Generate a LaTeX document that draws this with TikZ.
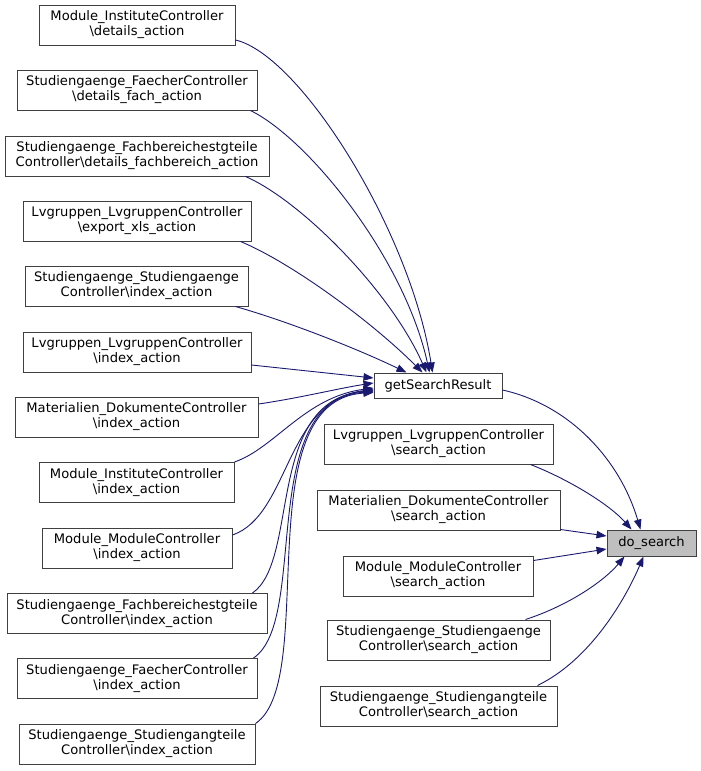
\documentclass[tikz,border=0pt]{standalone}
\usepackage{fontspec}
\setmainfont{DejaVu Sans}
\usetikzlibrary{arrows.meta}
\definecolor{edgeblue}{HTML}{191970}
\definecolor{boxgray}{HTML}{404040}
\definecolor{hlgray}{HTML}{BFBFBF}
\tikzset{
  box/.style={draw=boxgray, line width=1pt, fill=white, inner sep=0pt,
    minimum height=40pt, align=center, font=\fontsize{13.1}{15}\selectfont},
  onebox/.style={box, minimum height=25pt},
  edge/.style={draw=edgeblue, line width=0.9pt, -{Triangle[length=10pt,width=7.5pt]}}
}
\begin{document}
\begin{tikzpicture}[x=1pt,y=-1pt]
\useasboundingbox (0,0) rectangle (701,771);
% left column
\node[box, minimum width=196pt] (l1) at (137,25) {Module\_InstituteController\\\textbackslash details\_action};
\node[box, minimum width=240pt] (l2) at (137,90) {Studiengaenge\_FaecherController\\\textbackslash details\_fach\_action};
\node[box, minimum width=264pt] (l3) at (137,156) {Studiengaenge\_Fachbereichestgteile\\Controller\textbackslash details\_fachbereich\_action};
\node[box, minimum width=228pt] (l4) at (137,221) {Lvgruppen\_LvgruppenController\\\textbackslash export\_xls\_action};
\node[box, minimum width=223pt] (l5) at (136.5,286) {Studiengaenge\_Studiengaenge\\Controller\textbackslash index\_action};
\node[box, minimum width=228pt] (l6) at (137,352) {Lvgruppen\_LvgruppenController\\\textbackslash index\_action};
\node[box, minimum width=243pt] (l7) at (136.5,417) {Materialien\_DokumenteController\\\textbackslash index\_action};
\node[box, minimum width=195pt] (l8) at (136.5,482.5) {Module\_InstituteController\\\textbackslash index\_action};
\node[box, minimum width=190pt] (l9) at (137,548) {Module\_ModuleController\\\textbackslash index\_action};
\node[box, minimum width=260pt] (l10) at (137,613.5) {Studiengaenge\_Fachbereichestgteile\\Controller\textbackslash index\_action};
\node[box, minimum width=240pt] (l11) at (137,678.5) {Studiengaenge\_FaecherController\\\textbackslash index\_action};
\node[box, minimum width=236pt] (l12) at (137,744) {Studiengaenge\_Studiengangteile\\Controller\textbackslash index\_action};
% middle column
\node[onebox, minimum width=128pt] (gsr) at (438,385.5) {getSearchResult};
\node[box, minimum width=229pt] (s1) at (438.5,444) {Lvgruppen\_LvgruppenController\\\textbackslash search\_action};
\node[box, minimum width=243pt] (s2) at (438.5,510) {Materialien\_DokumenteController\\\textbackslash search\_action};
\node[box, minimum width=190pt] (s3) at (438,576) {Module\_ModuleController\\\textbackslash search\_action};
\node[box, minimum width=223pt] (s4) at (438.5,640) {Studiengaenge\_Studiengaenge\\Controller\textbackslash search\_action};
\node[box, minimum width=237pt] (s5) at (438.5,706) {Studiengaenge\_Studiengangteile\\Controller\textbackslash search\_action};
% target
\node[onebox, fill=hlgray, minimum width=89pt, minimum height=26pt] (ds) at (651.5,543) {do\_search};
% edges into getSearchResult
\draw[edge] ([yshift=-15pt]l1.east) .. controls (300,55) and (410,230) .. ([xshift=59pt]gsr.north west);
\draw[edge] ([xshift=-7pt]l2.south east) .. controls (310,140) and (405,260) .. ([xshift=56pt]gsr.north west);
\draw[edge] ([xshift=-24pt]l3.south east) .. controls (300,200) and (390,290) .. ([xshift=53pt]gsr.north west);
\draw[edge] ([xshift=-11pt]l4.south east) .. controls (290,262) and (370,320) .. ([xshift=49pt]gsr.north west);
\draw[edge] ([xshift=-13pt]l5.south east) .. controls (290,322) and (360,350) .. ([xshift=33pt]gsr.north west);
\draw[edge] ([yshift=-13pt]l6.east) -- ([yshift=7.5pt]gsr.west);
\draw[edge] ([yshift=13pt]l7.east) .. controls (300,398) and (340,388) .. ([yshift=2.5pt]gsr.west);
\draw[edge] (l8.north east) .. controls (275,448) and (305,397) .. ([yshift=-2.5pt]gsr.west);
\draw[edge] ([yshift=13pt]l9.east) .. controls (290,515) and (285,400) .. ([yshift=-4pt]gsr.west);
\draw[edge] ([xshift=-15pt]l10.north east) .. controls (300,560) and (265,400) .. ([yshift=-5pt]gsr.west);
\draw[edge] ([xshift=-4pt]l11.north east) .. controls (310,620) and (255,400) .. ([yshift=-6pt]gsr.west);
\draw[edge] (l12.north east) .. controls (320,680) and (245,400) .. ([yshift=-7pt]gsr.west);
% edges into do_search
\draw[edge] ([yshift=-4.5pt]gsr.east) .. controls (570,405) and (620,460) .. ([xshift=34pt]ds.north west);
\draw[edge] ([xshift=-23pt]s1.south east) .. controls (570,480) and (610,505) .. ([xshift=25pt]ds.north west);
\draw[edge] ([yshift=1pt]s2.south east) -- ([yshift=7pt]ds.west);
\draw[edge] ([yshift=-5pt]s3.north east) -- ([yshift=-6pt]ds.west);
\draw[edge] ([xshift=-25pt]s4.north east) .. controls (570,605) and (605,580) .. ([xshift=18pt]ds.south west);
\draw[edge] ([xshift=-20pt]s5.north east) .. controls (590,660) and (625,600) .. ([xshift=37pt]ds.south west);
\end{tikzpicture}
\end{document}
